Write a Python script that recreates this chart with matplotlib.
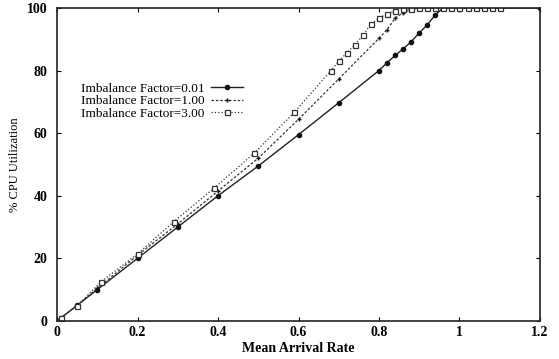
import matplotlib
matplotlib.use('Agg')
import matplotlib.pyplot as plt

# Imbalance factor 0.01
x1 = [0, 0.01, 0.05, 0.1, 0.2, 0.3, 0.4, 0.5, 0.6, 0.7, 0.8, 0.82, 0.84, 0.86,
      0.88, 0.9, 0.92, 0.94, 0.96, 0.98, 1.0, 1.02, 1.04, 1.06, 1.08, 1.1, 1.2]
y1 = [0, 1, 5, 10, 20, 30, 40, 49.5, 59.5, 69.7, 80, 82.5, 84.8, 86.9,
      89.2, 92, 94.6, 97.8, 100, 100, 100, 100, 100, 100, 100, 100, 100]

# Imbalance factor 1.00
x2 = [0, 0.01, 0.05, 0.1, 0.2, 0.3, 0.4, 0.5, 0.6, 0.7, 0.8, 0.82, 0.84, 0.86,
      0.88, 0.9, 0.92, 0.94, 0.96, 0.98, 1.0, 1.02, 1.04, 1.06, 1.08, 1.1]
y2 = [0, 1, 5, 10.4, 21, 31, 41.5, 52, 64.4, 77.3, 90.3, 93, 96.7, 98.5,
      99.5, 100, 100, 100, 100, 100, 100, 100, 100, 100, 100, 100]

# Imbalance factor 3.00
x3 = [0, 0.01, 0.05, 0.11, 0.2, 0.29, 0.39, 0.49, 0.59, 0.68, 0.7, 0.72, 0.74,
      0.76, 0.78, 0.8, 0.82, 0.84, 0.86, 0.88, 0.9, 0.92, 0.94, 0.96, 0.98,
      1.0, 1.02, 1.04, 1.06, 1.08, 1.1]
y3 = [0, 1, 4.8, 12.6, 21.4, 31.7, 42.4, 53.6, 66.7, 79.9, 82.9, 85.7, 88.2,
      91.2, 94.9, 96.7, 98.1, 99, 99.5, 99.7, 100, 100, 100, 100, 100,
      100, 100, 100, 100, 100, 100]

labels = ['Imbalance Factor=0.01', 'Imbalance Factor=1.00', 'Imbalance Factor=3.00']
x_ticks = [0, 0.2, 0.4, 0.6, 0.8, 1, 1.2]
x_tick_labels = ['0', '0.2', '0.4', '0.6', '0.8', '1', '1.2']
y_ticks = [0, 20, 40, 60, 80, 100]

plt.rcParams['font.family'] = ['Liberation Serif', 'DejaVu Serif']

fig = plt.figure(figsize=(5.59, 3.59), dpi=100)
ax = fig.add_axes([0.102, 0.106, 0.864, 0.872])

ax.plot(x1, y1, '-', color='#222222', lw=1.0, marker='o', ms=3,
        mfc='#111111', mec='#111111', label=labels[0])
ax.plot(x2, y2, '--', color='#333333', lw=0.9, dashes=(2, 1.5), marker='+',
        ms=3.5, mew=1.0, mec='#111111', label=labels[1])
ax.plot(x3, y3, ':', color='#333333', lw=0.9, marker='s', ms=3.6,
        mfc='white', mec='#333333', mew=0.9, label=labels[2])

ax.set_xlim(0, 1.2)
ax.set_ylim(0, 100)
ax.set_xticks(x_ticks)
ax.set_xticklabels(x_tick_labels)
ax.set_yticks(y_ticks)
ax.tick_params(direction='in', top=True, right=True, length=3,
               labelsize=10, width=0.8)
ax.tick_params(axis='y', pad=7)
for lbl in ax.get_xticklabels() + ax.get_yticklabels():
    lbl.set_fontweight('bold')
for sp in ax.spines.values():
    sp.set_linewidth(1.2)
    sp.set_color('#222222')

ax.set_xlabel('Mean Arrival Rate', fontsize=10, fontweight='bold', labelpad=2)
ax.set_ylabel('% CPU Utilization', fontsize=9)
ax.yaxis.set_label_coords(-0.075, 0.5)

ax.legend(loc='upper left', bbox_to_anchor=(0.03, 0.79), frameon=False,
          markerfirst=False, fontsize=9.5, handlelength=2.4,
          labelspacing=0.0, handletextpad=0.5, borderpad=0.2)

fig.savefig('out.png', dpi=100)
